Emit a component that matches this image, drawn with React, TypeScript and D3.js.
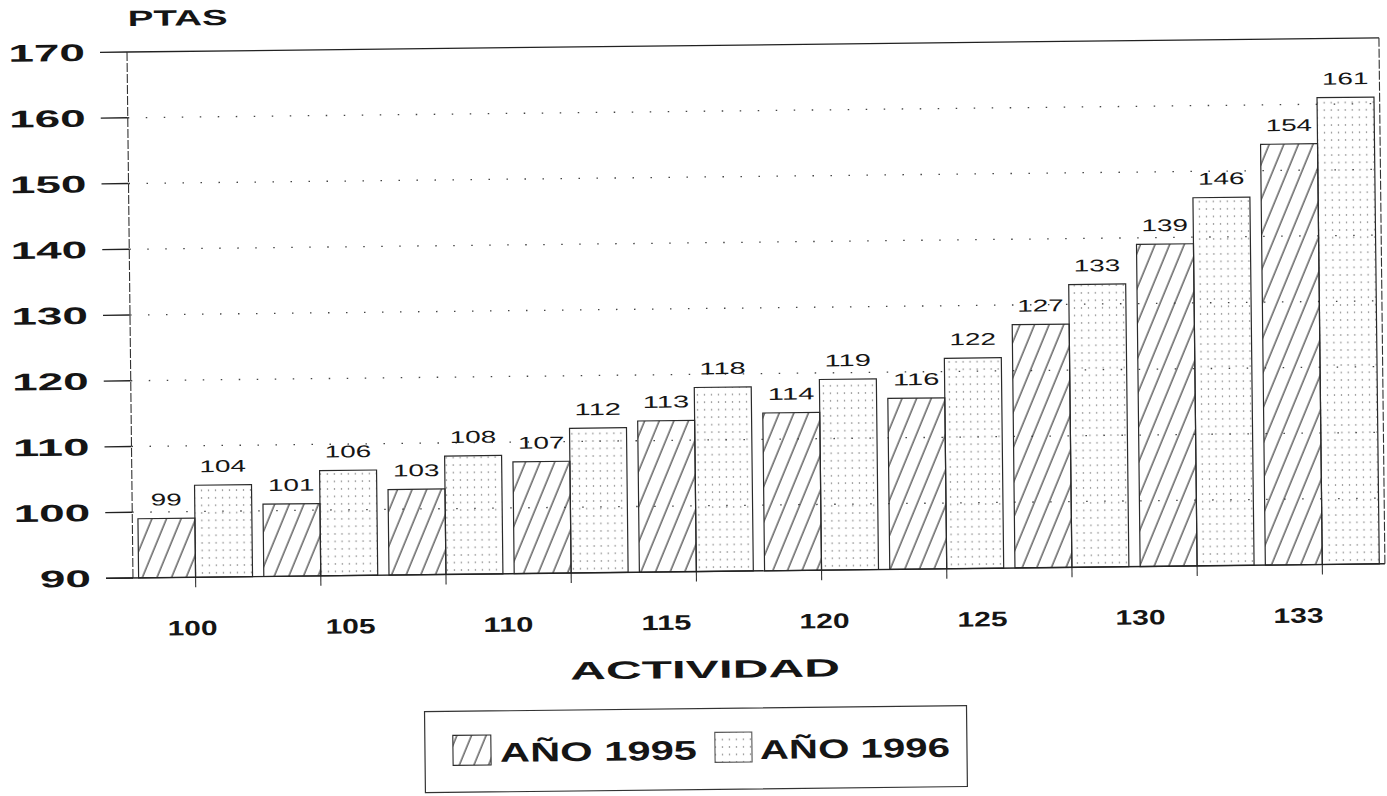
import React from "react";
import * as d3 from "d3";

const pairs = ["p1", "p2", "p3", "p4", "p5", "p6", "p7", "p8", "p9", "p10"];
const values1995 = [99, 101, 103, 107, 113, 114, 116, 127, 139, 154];
const values1996 = [104, 106, 108, 112, 118, 119, 122, 133, 146, 161];
const categoryLabels = ["100", "105", "110", "115", "120", "125", "130", "133"];
const yTicks = [90, 100, 110, 120, 130, 140, 150, 160, 170];
const yTitle = "PTAS";
const xTitle = "ACTIVIDAD";
const seriesNames = ["AÑO 1995", "AÑO 1996"];

const W = 1387;
const H = 796;
const X0 = 130;
const X1 = 1382;
const YB = 578;
const YT = 52;
const FONT = "'Liberation Sans', Arial, Helvetica, sans-serif";
const INK = "#151515";

export default function App() {
  const x = d3.scaleBand<string>().domain(pairs).range([X0, X1]).paddingInner(0.09).paddingOuter(0.045);
  const y = d3.scaleLinear().domain([90, 170]).range([YB, YT]);
  const lx = d3.scalePoint<string>().domain(categoryLabels).range([189, 1295]);
  const bw = x.bandwidth() / 2;

  return (
    <svg
      width={W}
      height={H}
      style={{ position: "absolute", left: 0, top: 0, background: "#fff" }}
      fontFamily={FONT}
    >
      <defs>
        <pattern id="hatch" width={13.5} height={20} patternUnits="userSpaceOnUse" patternTransform="rotate(23)">
          <line x1={3} y1={0} x2={3} y2={20} stroke="#2a2a2a" strokeWidth={1.1} />
        </pattern>
        <pattern id="dots" width={7} height={7.5} patternUnits="userSpaceOnUse">
          <circle cx={3.5} cy={3.7} r={0.75} fill="#6a6a6a" />
        </pattern>
      </defs>
      <rect x={0} y={0} width={W} height={H} fill="#fff" />
      <g transform="rotate(-0.65, 130, 315)">
        {/* title */}
        <text x={131} y={26} fontSize={22} fontWeight="bold" fill={INK} textLength={100} lengthAdjust="spacingAndGlyphs">
          {yTitle}
        </text>

        {/* gridlines */}
        {yTicks.filter((t) => t > 90 && t < 170).map((t) => (
          <line key={"g" + t} x1={X0} x2={X1} y1={y(t)} y2={y(t)} stroke="#444" strokeWidth={1.3} strokeDasharray="1.5,16.5" />
        ))}

        {/* frame */}
        <line x1={X0} x2={X1} y1={y(170)} y2={y(170)} stroke="#222" strokeWidth={1.3} />
        <line x1={X0} x2={X0} y1={y(170)} y2={y(90)} stroke="#333" strokeWidth={1.1} strokeDasharray="9,2" />
        <line x1={X1} x2={X1} y1={y(170)} y2={y(90)} stroke="#333" strokeWidth={1.1} strokeDasharray="9,2" />

        {/* y ticks and labels */}
        {yTicks.map((t) => (
          <g key={"t" + t}>
            <line x1={103} x2={X0} y1={y(t)} y2={y(t)} stroke="#222" strokeWidth={1.3} />
            <text
              x={88}
              y={y(t) + 8.5}
              fontSize={24}
              fontWeight="bold"
              textAnchor="end"
              fill={INK}
              textLength={String(t).length * 25.5}
              lengthAdjust="spacingAndGlyphs"
            >
              {t}
            </text>
          </g>
        ))}

        {/* bars */}
        {pairs.map((p, i) => {
          const bx = x(p) as number;
          return (
            <g key={p}>
              <rect x={bx} y={y(values1995[i])} width={bw} height={YB - y(values1995[i])} fill="url(#hatch)" stroke="#2a2a2a" strokeWidth={1.2} />
              <rect x={bx + bw} y={y(values1996[i])} width={bw} height={YB - y(values1996[i])} fill="url(#dots)" stroke="#2a2a2a" strokeWidth={1.2} />
              <text
                x={bx + bw / 2}
                y={y(values1995[i]) - 13}
                fontSize={17}
                textAnchor="middle"
                fill={INK}
                textLength={String(values1995[i]).length * 15.5}
                lengthAdjust="spacingAndGlyphs"
              >
                {values1995[i]}
              </text>
              <text
                x={bx + bw * 1.5}
                y={y(values1996[i]) - 13}
                fontSize={17}
                textAnchor="middle"
                fill={INK}
                textLength={String(values1996[i]).length * 15.5}
                lengthAdjust="spacingAndGlyphs"
              >
                {values1996[i]}
              </text>
              <line x1={bx + bw} x2={bx + bw} y1={YB} y2={YB + 10} stroke="#333" strokeWidth={1.1} />
            </g>
          );
        })}

        {/* baseline */}
        <line x1={103} x2={X1} y1={YB} y2={YB} stroke="#222" strokeWidth={1.4} />

        {/* category labels */}
        {categoryLabels.map((c) => (
          <text
            key={"c" + c}
            x={lx(c)}
            y={636}
            fontSize={21}
            fontWeight="bold"
            textAnchor="middle"
            fill={INK}
            textLength={50}
            lengthAdjust="spacingAndGlyphs"
          >
            {c}
          </text>
        ))}

        {/* x title */}
        <text x={701} y={684.5} fontSize={25} fontWeight="bold" textAnchor="middle" fill={INK} textLength={270} lengthAdjust="spacingAndGlyphs">
          {xTitle}
        </text>

        {/* legend */}
        <rect x={420} y={715} width={542} height={81} fill="none" stroke="#333" strokeWidth={1.2} />
        <rect x={448} y={739} width={38} height={30} fill="url(#hatch)" stroke="#2a2a2a" strokeWidth={1.1} />
        <text x={495} y={766} fontSize={27} fontWeight="bold" fill={INK} textLength={197} lengthAdjust="spacingAndGlyphs">
          {seriesNames[0]}
        </text>
        <rect x={710} y={739} width={37} height={30} fill="url(#dots)" stroke="#555" strokeWidth={1.1} />
        <text x={755} y={766} fontSize={27} fontWeight="bold" fill={INK} textLength={190} lengthAdjust="spacingAndGlyphs">
          {seriesNames[1]}
        </text>
      </g>
    </svg>
  );
}
